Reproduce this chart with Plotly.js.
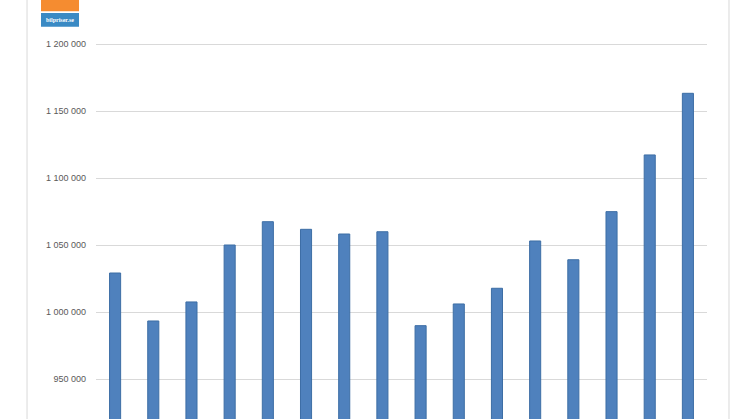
<!DOCTYPE html>
<html>
<head>
<meta charset="utf-8">
<script src="https://cdn.plot.ly/plotly-3.0.1.min.js"></script>
<style>html,body{margin:0;padding:0;background:#fff;}#chart{width:746px;height:419px;}</style>
</head>
<body>
<div id="chart"></div>
<script>
var categories = ['2001','2002','2003','2004','2005','2006','2007','2008','2009','2010','2011','2012','2013','2014','2015','2016'];
var values = [1029100, 993300, 1007500, 1050000, 1067400, 1061700, 1058200, 1059900, 989800, 1006000, 1017700, 1053000, 1039000, 1074900, 1117200, 1163200];
var tickValues = [950000, 1000000, 1050000, 1100000, 1150000, 1200000];
var tickLabels = ['950 000', '1 000 000', '1 050 000', '1 100 000', '1 150 000', '1 200 000'];
var logoText = 'bilpriser.se';

var trace = {
  type: 'bar',
  x: categories,
  y: values,
  width: 0.29,
  marker: {color: '#4f81bd', line: {color: '#3d6ea5', width: 1}},
  hoverinfo: 'x+y'
};

// plot area: top 40px, bottom 419px (379px tall)
var layout = {
  width: 746, height: 419,
  margin: {l: 96, r: 39, t: 40, b: 0, pad: 0},
  paper_bgcolor: '#ffffff',
  plot_bgcolor: '#ffffff',
  showlegend: false,
  font: {family: 'Liberation Sans, Arial, sans-serif', color: '#595959', size: 9},
  xaxis: {type: 'category', showticklabels: false, showgrid: false, zeroline: false, showline: false, ticks: '', range: [-0.5, 15.5]},
  yaxis: {range: [920150, 1202986], tickvals: tickValues, ticktext: tickLabels,
          showgrid: true, gridcolor: '#d9d9d9', gridwidth: 1, zeroline: false, showline: false,
          ticks: '', ticklabelstandoff: 9, tickfont: {size: 9, color: '#595959'}},
  shapes: [
    {type: 'line', xref: 'paper', yref: 'paper', x0: -0.1129, x1: -0.1129, y0: -0.2, y1: 1.3, line: {color: '#d9d9d9', width: 1}},
    {type: 'line', xref: 'paper', yref: 'paper', x0: 1.036, x1: 1.036, y0: -0.2, y1: 1.3, line: {color: '#d9d9d9', width: 1}},
    {type: 'rect', xref: 'paper', yref: 'paper', x0: -0.090, x1: -0.0278, y0: 1.076, y1: 1.2, fillcolor: '#f58c30', line: {width: 0}},
    {type: 'rect', xref: 'paper', yref: 'paper', x0: -0.090, x1: -0.0278, y0: 1.035, y1: 1.071, fillcolor: '#3a8ac4', line: {width: 0}}
  ],
  annotations: [
    {xref: 'paper', yref: 'paper', x: -0.0589, y: 1.053, text: '<b>' + logoText + '</b>', showarrow: false,
     font: {family: 'Liberation Serif, serif', size: 6, color: '#ffffff'}, xanchor: 'center', yanchor: 'middle'}
  ]
};

Plotly.newPlot('chart', [trace], layout, {displayModeBar: false, staticPlot: true});
</script>
</body>
</html>
